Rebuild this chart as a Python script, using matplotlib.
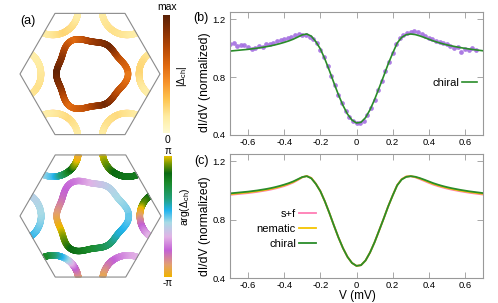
import numpy as np
import matplotlib
matplotlib.use('Agg')
import matplotlib.pyplot as plt
from matplotlib.collections import LineCollection
from matplotlib.colors import LinearSegmentedColormap
from matplotlib.patches import Polygon
from matplotlib.path import Path

plt.rcParams['font.family'] = ['Liberation Sans', 'DejaVu Sans']
plt.rcParams['axes.unicode_minus'] = False
plt.rcParams['mathtext.fontset'] = 'custom'
plt.rcParams['mathtext.rm'] = 'Liberation Sans'
plt.rcParams['mathtext.it'] = 'Liberation Sans:italic'
plt.rcParams['mathtext.sf'] = 'Liberation Sans'

# ---------------- data ----------------
V_fit = np.round(np.arange(-0.7, 0.7001, 0.025), 3)
chiral = [0.980, 0.983, 0.986, 0.989, 0.992, 0.996, 1.000, 1.005, 1.010, 1.016,
          1.023, 1.031, 1.040, 1.050, 1.062, 1.077, 1.092, 1.098, 1.083, 1.045,
          0.995, 0.925, 0.845, 0.760, 0.678, 0.605, 0.545, 0.503, 0.483, 0.488,
          0.520, 0.575, 0.645, 0.725, 0.806, 0.890, 0.965, 1.035, 1.075, 1.093,
          1.098, 1.094, 1.085, 1.074, 1.062, 1.050, 1.040, 1.031, 1.023, 1.016,
          1.010, 1.004, 0.999, 0.994, 0.990, 0.986, 0.982]
s_f = [0.970, 0.973, 0.976, 0.979, 0.982, 0.986, 0.990, 0.995, 1.000, 1.006,
       1.013, 1.021, 1.030, 1.041, 1.054, 1.071, 1.090, 1.100, 1.086, 1.047,
       0.996, 0.925, 0.845, 0.760, 0.678, 0.605, 0.545, 0.503, 0.483, 0.488,
       0.520, 0.575, 0.645, 0.725, 0.806, 0.890, 0.966, 1.037, 1.078, 1.096,
       1.098, 1.090, 1.078, 1.065, 1.052, 1.040, 1.030, 1.021, 1.013, 1.006,
       1.000, 0.994, 0.989, 0.984, 0.980, 0.976, 0.972]
nematic = [0.975, 0.978, 0.981, 0.984, 0.987, 0.991, 0.995, 1.000, 1.005, 1.011,
           1.018, 1.026, 1.035, 1.046, 1.058, 1.074, 1.091, 1.099, 1.085, 1.046,
           0.995, 0.925, 0.845, 0.760, 0.678, 0.605, 0.545, 0.503, 0.483, 0.488,
           0.520, 0.575, 0.645, 0.725, 0.806, 0.890, 0.965, 1.036, 1.077, 1.095,
           1.098, 1.092, 1.082, 1.070, 1.057, 1.045, 1.035, 1.026, 1.018, 1.011,
           1.005, 0.999, 0.994, 0.989, 0.985, 0.981, 0.977]

V_exp = np.round(np.arange(-0.70, 0.6601, 0.02), 2)
exp_didv = [1.028, 1.035, 1.016, 1.020, 1.022, 1.010, 0.992, 1.002, 1.012, 1.006,
            1.026, 1.030, 1.038, 1.048, 1.058, 1.064, 1.070, 1.078, 1.088, 1.095,
            1.092, 1.090, 1.078, 1.065, 1.035, 0.990, 0.940, 0.875, 0.810, 0.743,
            0.675, 0.618, 0.565, 0.525, 0.495, 0.480, 0.483, 0.500, 0.540, 0.588,
            0.645, 0.710, 0.775, 0.842, 0.905, 0.965, 1.030, 1.068, 1.090, 1.105,
            1.113, 1.116, 1.113, 1.098, 1.083, 1.072, 1.060, 1.048, 1.040, 1.033,
            1.026, 1.012, 1.004, 1.007, 0.975, 0.994, 0.988, 1.004, 0.984]

x_ticks = [-0.6, -0.4, -0.2, 0, 0.2, 0.4, 0.6]
x_tick_labels = ['-0.6', '-0.4', '-0.2', '0', '0.2', '0.4', '0.6']
y_ticks = [0.4, 0.8, 1.2]
y_tick_labels = ['0.4', '0.8', '1.2']

# Fermi surface description (hexagon circumradius = 1)
inner_r0, inner_a3, inner_a6 = 0.49, 0.065, 0.045
pocket_offset, pocket_radius = 0.06, 0.36
inner_mag_angles = [0, 30, 60, 90, 120, 150, 180, 210, 240, 270, 300, 330, 360]
inner_mag = [0.52, 0.66, 0.93, 0.80, 0.56, 0.82, 0.97, 0.84, 0.56, 0.70, 0.93, 0.70, 0.52]
outer_mag = [[0.14, 0.20, 0.22, 0.16, 0.12],
             [0.12, 0.16, 0.18, 0.16, 0.12],
             [0.12, 0.16, 0.22, 0.18, 0.12],
             [0.16, 0.18, 0.16, 0.14, 0.12],
             [0.12, 0.16, 0.20, 0.16, 0.12],
             [0.12, 0.16, 0.20, 0.18, 0.14]]
inner_phase_angles = [-180, -150, -120, -90, -60, -30, 0, 30, 60, 90, 120, 150, 180]
inner_phase = [1.10, 0.98, 0.86, 0.78, 0.70, 0.58, 0.50, 0.46, 0.42, 0.35, 0.25, 0.20, 0.10]
outer_phase = [[0.84, 0.92, 1.08, 1.22, 1.33],
               [1.00, 0.93, 0.86, 0.83, 0.82],
               [0.44, 0.53, 0.72, 0.92, 1.04],
               [0.55, 0.50, 0.46, 0.44, 0.42],
               [0.08, 0.22, 0.45, 0.62, 0.78],
               [0.34, 0.31, 0.25, 0.18, 0.08]]

mag_colors = ['#fffbd2', '#feeba0', '#fec44f', '#f7922a', '#e06a10', '#b84a06', '#8a3204', '#5a2106']
phase_colors = ['#f0b400', '#e3a070', '#c462d6', '#e2b2e6', '#a9dbe6', '#22b4ee',
                '#22a07a', '#1a8a2a', '#0b6a12', '#7a9a00', '#e8c000']
phase_pos = [0.0, 0.10, 0.22, 0.33, 0.45, 0.55, 0.65, 0.78, 0.86, 0.94, 1.0]

# ---------------- figure ----------------
W, H = 498, 303
fig = plt.figure(figsize=(W / 100, H / 100), dpi=100)


def px_axes(x0, y0, x1, y1):
    return fig.add_axes([x0 / W, 1 - y1 / H, (x1 - x0) / W, (y1 - y0) / H])


def ftext(x, y, s, **kw):
    return fig.text(x / W, 1 - y / H, s, **kw)


mag_cmap = LinearSegmentedColormap.from_list('mag', mag_colors)
phase_cmap = LinearSegmentedColormap.from_list('phase', list(zip(phase_pos, phase_colors)))

hex_ang = np.deg2rad(np.arange(0, 360, 60))
hex_xy = np.c_[np.cos(hex_ang), np.sin(hex_ang)]
hex_path = Path(np.vstack([hex_xy, hex_xy[:1]]), closed=True)


def draw_bz(cx, cy, Rpx, box, cmap, inner_ang, inner_val, outer_vals):
    x0, y0, x1, y1 = box
    ax = px_axes(x0, y0, x1, y1)
    ax.set_xlim((x0 - cx) / Rpx, (x1 - cx) / Rpx)
    ax.set_ylim((cy - y1) / Rpx, (cy - y0) / Rpx)
    ax.axis('off')
    hexpatch = Polygon(hex_xy, closed=True, fill=False, ec='#8a8a8a', lw=0.8, zorder=5)
    ax.add_patch(hexpatch)
    # inner pocket
    th = np.linspace(0, 2 * np.pi, 721)
    r = inner_r0 * (1 + inner_a3 * np.cos(3 * th) + inner_a6 * np.cos(6 * th))
    pts = np.c_[r * np.cos(th), r * np.sin(th)]
    segs = np.stack([pts[:-1], pts[1:]], axis=1)
    thm = np.rad2deg(0.5 * (th[:-1] + th[1:]))
    if inner_ang[0] < 0:
        thm = np.where(thm > 180, thm - 360, thm)
    tv = np.interp(thm, inner_ang, inner_val) % 1.0
    lc = LineCollection(segs, colors=cmap(tv), linewidths=4.6, capstyle='round')
    ax.add_collection(lc)
    # corner pockets
    for k in range(6):
        a = hex_ang[k]
        C = hex_xy[k] * (1 + pocket_offset)
        phi = np.linspace(a + np.pi / 2, a + 3 * np.pi / 2, 801)
        p = np.c_[C[0] + pocket_radius * np.cos(phi), C[1] + pocket_radius * np.sin(phi)]
        inside = hex_path.contains_points(p, radius=1e-9)
        idx = np.where(inside)[0]
        i0, i1 = max(idx[0] - 3, 0), min(idx[-1] + 3, len(phi) - 1)
        pp = p[i0:i1 + 1]
        f = np.linspace(0, 1, len(pp) - 1)
        tv = np.interp(f, [0, 0.25, 0.5, 0.75, 1], outer_vals[k]) % 1.0
        segs = np.stack([pp[:-1], pp[1:]], axis=1)
        lc = LineCollection(segs, colors=cmap(tv), linewidths=4.6, capstyle='round')
        lc.set_clip_path(hexpatch)
        ax.add_collection(lc)
    return ax


draw_bz(90, 74, 70, (12, 4, 162, 144), mag_cmap, inner_mag_angles, inner_mag, outer_mag)
draw_bz(90.5, 216, 70.5, (12, 146, 162, 286), phase_cmap, inner_phase_angles, inner_phase, outer_phase)

# colorbars
grad = np.linspace(0, 1, 256)[:, None]
for (box, cmap) in [((163, 15, 170, 133), mag_cmap), ((164, 156, 171, 277), phase_cmap)]:
    cax = px_axes(*box)
    cax.imshow(grad, cmap=cmap, aspect='auto', origin='lower', extent=(0, 1, 0, 1))
    cax.set_xticks([])
    cax.set_yticks([])
    for s in cax.spines.values():
        s.set_visible(False)

ftext(167, 7, 'max', ha='center', va='center', fontsize=7.5)
ftext(167, 140, '0', ha='center', va='center', fontsize=7.5)
ftext(168, 151, 'π', ha='center', va='center', fontsize=7)
ftext(168, 283, '-π', ha='center', va='center', fontsize=7)
ftext(182, 76, r'$|\Delta_{\rm ch}|$', ha='center', va='center', rotation=90, fontsize=7.5)
ftext(185, 207, r'arg($\Delta_{\rm ch}$)', ha='center', va='center', rotation=90, fontsize=7.5)

ftext(28, 21, '(a)', ha='center', va='center', fontsize=9)
ftext(201, 18, '(b)', ha='center', va='center', fontsize=9)
ftext(201, 161, '(c)', ha='center', va='center', fontsize=9)


def style_axes(ax):
    ax.set_xlim(-0.7, 0.7)
    ax.set_ylim(0.4, 1.25)
    ax.set_xticks(x_ticks)
    ax.set_xticklabels(x_tick_labels)
    ax.set_yticks(y_ticks)
    ax.set_yticklabels(y_tick_labels)
    ax.tick_params(direction='in', top=True, right=True, length=4, width=0.6,
                   color='#999999', labelsize=6.8, pad=3)
    ax.tick_params(axis='x', pad=2)
    for s in ax.spines.values():
        s.set_color('#999999')
        s.set_linewidth(0.8)


axb = px_axes(230, 12, 483, 135)
style_axes(axb)
axb.plot(V_exp, exp_didv, 'o', ms=3.4, color='#a36ee0', mec='none', alpha=0.9)
axb.plot(V_fit, chiral, '-', color='#2a8c2a', lw=1.2, label='chiral')
axb.legend(loc='center right', bbox_to_anchor=(0.976, 0.423), frameon=False, fontsize=8,
           markerfirst=False, handlelength=1.3, handletextpad=0.3, borderpad=0, borderaxespad=0)
ftext(205, 82, 'dI/dV (normalized)', ha='center', va='center', rotation=90, fontsize=8.7)

axc = px_axes(230, 154, 483, 278)
style_axes(axc)
axc.plot(V_fit, s_f, '-', color='#ff7db4', lw=1.3, label='s+f')
axc.plot(V_fit, nematic, '-', color='#f5c400', lw=1.3, label='nematic')
axc.plot(V_fit, chiral, '-', color='#2a8c2a', lw=1.3, label='chiral')
axc.legend(loc='center right', bbox_to_anchor=(0.34, 0.395), frameon=False, fontsize=8,
           markerfirst=False, handlelength=1.5, handletextpad=0.3, borderpad=0, borderaxespad=0,
           labelspacing=0.45)
ftext(205, 226, 'dI/dV (normalized)', ha='center', va='center', rotation=90, fontsize=8.7)
ftext(357, 296, 'V (mV)', ha='center', va='center', fontsize=8.5)

fig.savefig('out.png', dpi=100)
